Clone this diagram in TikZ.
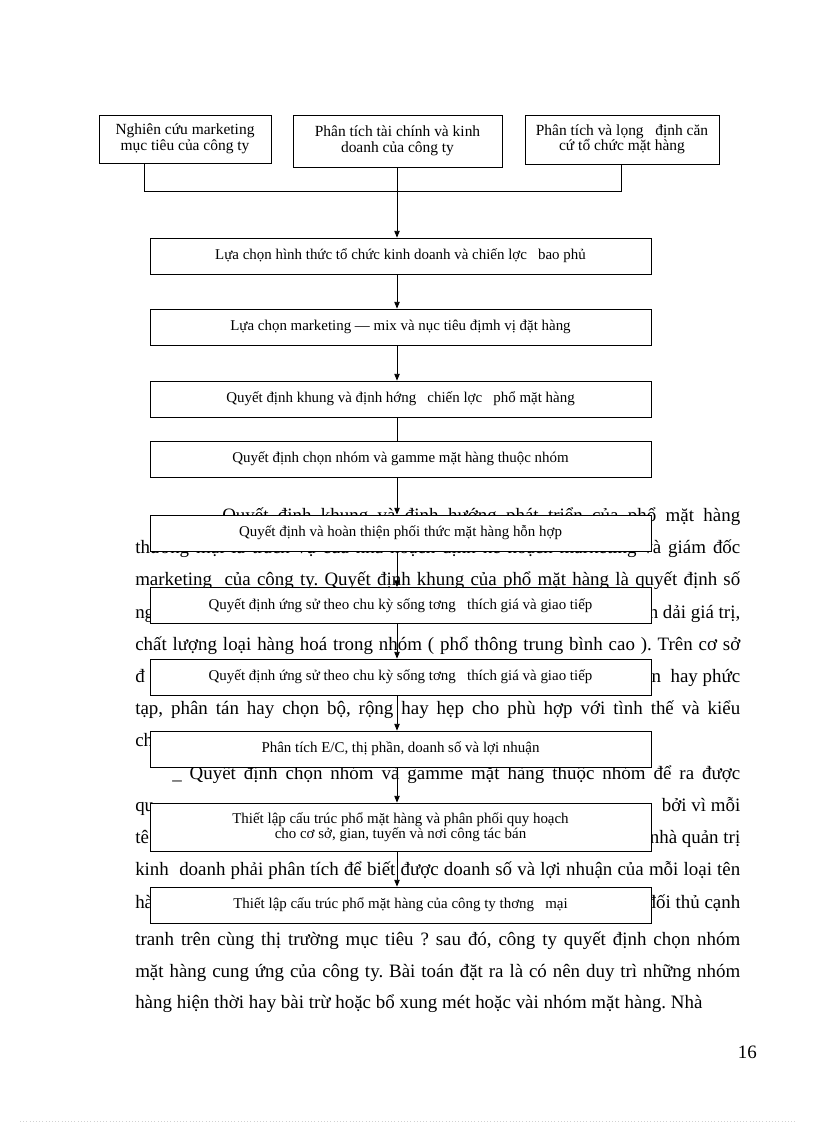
\documentclass[tikz,border=0pt]{standalone}
\usepackage{fontspec}
\setmainfont{Liberation Serif}
\usetikzlibrary{arrows.meta}
\frenchspacing

\tikzset{
  stepbox/.style={draw, line width=0.6pt, fill=white, minimum width=375.75pt, minimum height=27pt, inner sep=1pt, align=center, font=\fontsize{11.2}{11.5}\selectfont},
  topbox/.style={draw, line width=0.6pt, fill=white, inner sep=1pt, align=center, font=\fontsize{11.6}{11.6}\selectfont},
  link/.style={line width=0.6pt, -{Triangle[length=5pt,width=4pt]}},
  plainlink/.style={line width=0.6pt},
  bodyline/.style={anchor=base west, inner sep=0pt, font=\fontsize{14.2}{16}\selectfont},
}

\begin{document}
\begin{tikzpicture}[x=0.75pt,y=0.75pt,yscale=-1,xscale=1]
\useasboundingbox (0,0) rectangle (816,1123);

% Text Node
\node [bodyline] (t1) at (222,521) {\makebox[388.5pt][s]{Quyết định khung và định hướng phát triển của phổ mặt hàng}};
% Text Node
\node [bodyline] (t2) at (135,553) {\makebox[453.75pt][s]{thương mại là trách vụ của nhà hoạch định kế hoạch marketing và giám đốc}};
% Text Node
\node [bodyline] (t3) at (135,585) {\makebox[453.75pt][s]{marketing\ \ của công ty. Quyết định khung của phổ mặt hàng là quyết định số}};
% Text Node
\node [bodyline] (t4) at (135,618) {\makebox[453.75pt][s]{ng\hfill n dải giá trị,}};
% Text Node
\node [bodyline] (t5) at (135,650) {\makebox[453.75pt][s]{chất lượng loại hàng hoá trong nhóm ( phổ thông trung bình cao ). Trên cơ sở}};
% Text Node
\node [bodyline] (t6) at (135,682) {\makebox[453.75pt][s]{đ\hfill n\ \ hay phức}};
% Text Node
\node [bodyline] (t7) at (135,714) {\makebox[453.75pt][s]{tạp, phân tán hay chọn bộ, rộng hay hẹp cho phù hợp với tình thế và kiểu}};
% Text Node
\node [bodyline] (t8) at (135,746) {ch};
% Text Node
\node [bodyline] (t9) at (172,779) {\makebox[426pt][s]{\_ Quyết định chọn nhóm và gamme mặt hàng thuộc nhóm để ra được}};
% Text Node
\node [bodyline] (t10) at (135,811) {\makebox[453.75pt][s]{qu\hfill bởi vì mỗi}};
% Text Node
\node [bodyline] (t11) at (135,843) {\makebox[453.75pt][s]{tê\hfill nhà quản trị}};
% Text Node
\node [bodyline] (t12) at (135,875) {\makebox[453.75pt][s]{kinh\ \ doanh phải phân tích để biết được doanh số và lợi nhuận của mỗi loại tên}};
% Text Node
\node [bodyline] (t13) at (135,908) {\makebox[453.75pt][s]{hà\hfill đối thủ cạnh}};
% Text Node
\node [bodyline] (t14) at (135,945) {\makebox[453.75pt][s]{tranh trên cùng thị trường mục tiêu ? sau đó, công ty quyết định chọn nhóm}};
% Text Node
\node [bodyline] (t15) at (135,977) {\makebox[453.75pt][s]{mặt hàng cung ứng của công ty. Bài toán đặt ra là có nên duy trì những nhóm}};
% Text Node
\node [bodyline] (t16) at (135,1008) {hàng hiện thời hay bài trừ hoặc bổ xung mét hoặc vài nhóm mặt hàng. Nhà};
% Text Node
\node [anchor=base east, inner sep=0pt, font=\fontsize{14.2}{16}\selectfont] (pageno) at (757,1058) {16};

%Shape: Rectangle
\node [topbox, minimum width=129pt, minimum height=36pt] (B1) at (185,139) {Nghiên cứu marketing\\mục tiêu của công ty};
%Shape: Rectangle
\node [topbox, minimum width=156.75pt, minimum height=39pt] (B2) at (397.5,141) {Phân tích tài chính và kinh\\doanh của công ty};
%Shape: Rectangle
\node [topbox, minimum width=145.5pt, minimum height=36.75pt] (B3) at (622,139.5) {Phân tích và lọng\ \ \ định căn\\cứ tổ chức mặt hàng};

%Shape: Rectangle
\node [stepbox] (L1) at (400.5,256) {Lựa chọn hình thức tổ chức kinh doanh và chiến lợc\ \ \ bao phủ};
%Shape: Rectangle
\node [stepbox] (L2) at (400.5,327) {Lựa chọn marketing — mix và nục tiêu địmh vị đặt hàng};
%Shape: Rectangle
\node [stepbox] (L3) at (400.5,399) {Quyết định khung và định hớng\ \ \ chiến lợc\ \ \ phổ mặt hàng};
%Shape: Rectangle
\node [stepbox] (L4) at (400.5,459) {Quyết định chọn nhóm và gamme mặt hàng thuộc nhóm};
%Shape: Rectangle
\node [stepbox] (L5) at (400.5,533) {Quyết định và hoàn thiện phối thức mặt hàng hỗn hợp};
%Shape: Rectangle
\node [stepbox] (L6) at (400.5,605.5) {Quyết định ứng sử theo chu kỳ sống tơng\ \ \ thích giá và giao tiếp};
%Shape: Rectangle
\node [stepbox] (L7) at (400.5,677) {Quyết định ứng sử theo chu kỳ sống tơng\ \ \ thích giá và giao tiếp};
%Shape: Rectangle
\node [stepbox] (L8) at (400.5,749) {Phân tích E/C, thị phần, doanh số và lợi nhuận};
%Shape: Rectangle
\node [stepbox, minimum height=36pt] (L9) at (400.5,827) {Thiết lập cấu trúc phổ mặt hàng và phân phối quy hoạch\\cho cơ sở, gian, tuyến và nơi công tác bán};
%Shape: Rectangle
\node [stepbox] (L10) at (400.5,905) {Thiết lập cấu trúc phổ mặt hàng của công ty thơng\ \ \ mại};

\coordinate (spine) at (397,0);
\coordinate (b1foot) at (144,191);
\coordinate (b3foot) at (621,191);

%Straight Lines
\draw [plainlink] (B1.south -| b1foot) -- (b1foot) -- (b3foot) -- (B3.south -| b3foot);
\draw [link] (B2.south -| spine) -- (L1.north -| spine);
\draw [link] (L1.south -| spine) -- (L2.north -| spine);
\draw [link] (L2.south -| spine) -- (L3.north -| spine);
\draw [plainlink] (L3.south -| spine) -- (L4.north -| spine);
\draw [link] (L4.south -| spine) -- (L5.north -| spine);
\draw [link] (L5.south -| spine) -- (L6.north -| spine);
\draw [link] (L6.south -| spine) -- (L7.north -| spine);
\draw [link] (L7.south -| spine) -- (L8.north -| spine);
\draw [link] (L8.south -| spine) -- (L9.north -| spine);
\draw [link] (L9.south -| spine) -- (L10.north -| spine);

%Straight Lines
\draw [gray!35, dotted] (20,1121) -- (795,1121);

\end{tikzpicture}
\end{document}
